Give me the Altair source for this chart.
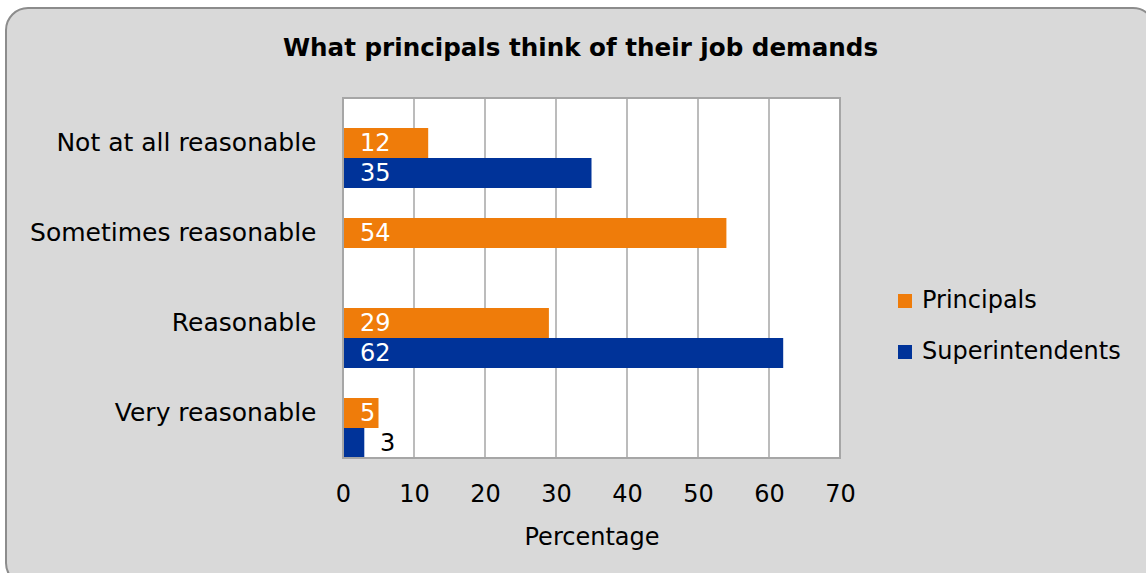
import altair as alt
import pandas as pd

categories = ["Not at all reasonable", "Sometimes reasonable", "Reasonable", "Very reasonable"]
principals = [12, 54, 29, 5]
superintendents = [35, None, 62, 3]
series = ["Principals", "Superintendents"]
grid_ticks = [0, 10, 20, 30, 40, 50, 60, 70]

rows = []
for c, p, s in zip(categories, principals, superintendents):
    rows.append({"category": c, "group": "Principals", "value": p})
    if s is not None:
        rows.append({"category": c, "group": "Superintendents", "value": s})
df = pd.DataFrame(rows)
grid_df = pd.DataFrame({"t": grid_ticks})

FONT = "DejaVu Sans"
FS = 24
W, H = 497, 360
PL, PT = 343, 98

xscale = alt.Scale(domain=[0, 70], nice=False, zero=True)
yscale = alt.Scale(domain=categories, paddingInner=0, paddingOuter=0)
yoff = alt.Scale(domain=series, paddingInner=0, paddingOuter=0.5, align=1)
colors = alt.Scale(domain=series, range=["#EF7C0A", "#003399"])

xaxis = alt.Axis(values=grid_ticks, title="Percentage", grid=False,
                 domain=False, ticks=False, labelPadding=24, labelFlush=False,
                 labelFontSize=FS, titleFontSize=FS, titlePadding=19,
                 labelFont=FONT, titleFont=FONT, titleFontWeight="normal",
                 labelColor="black", titleColor="black", zindex=2)

background = alt.Chart(pd.DataFrame({"a": [0]})).mark_rect(
    fill="#d9d9d9", stroke="#8c8c8c", strokeWidth=2, cornerRadius=22
).encode(
    x=alt.value(6 - PL), x2=alt.value(1155 - PL),
    y=alt.value(8 - PT), y2=alt.value(585 - PT)
)

plotbg = alt.Chart(pd.DataFrame({"a": [0]})).mark_rect(
    fill="white", stroke="#a6a6a6", strokeWidth=2
).encode(
    x=alt.value(0), x2=alt.value(W), y=alt.value(0), y2=alt.value(H)
)

grid = alt.Chart(grid_df).mark_rule(color="#a6a6a6", strokeWidth=1.5).encode(
    x=alt.X("t:Q", scale=xscale, axis=xaxis),
    y=alt.value(0), y2=alt.value(H)
)

bars = alt.Chart(df).mark_bar(size=30).encode(
    x=alt.X("value:Q", scale=xscale, axis=xaxis),
    y=alt.Y("category:N", scale=yscale, sort=categories,
            axis=alt.Axis(title=None, domain=False, ticks=False, labelPadding=27,
                          labelFontSize=25, labelFont=FONT, labelColor="black",
                          labelLimit=400, zindex=2)),
    yOffset=alt.YOffset("group:N", scale=yoff, sort=series),
    color=alt.Color("group:N", scale=colors, sort=series,
                    legend=alt.Legend(title=None, orient="none", legendX=550, legendY=191,
                                      symbolType="square", symbolSize=196,
                                      symbolStrokeWidth=0, labelFontSize=FS,
                                      labelFont=FONT, labelColor="black", labelLimit=400,
                                      rowPadding=27, labelOffset=5, zindex=2))
)

labels_in = alt.Chart(df).transform_filter("datum.value >= 4").mark_text(
    align="left", baseline="middle", dx=17, dy=1, fontSize=FS, font=FONT, color="white"
).encode(
    x=alt.value(0),
    y=alt.Y("category:N", scale=yscale, sort=categories),
    yOffset=alt.YOffset("group:N", scale=yoff, sort=series),
    text="value:Q"
)

labels_out = alt.Chart(df).transform_filter("datum.value < 4").mark_text(
    align="left", baseline="middle", dx=37, dy=1, fontSize=FS, font=FONT, color="black"
).encode(
    x=alt.value(0),
    y=alt.Y("category:N", scale=yscale, sort=categories),
    yOffset=alt.YOffset("group:N", scale=yoff, sort=series),
    text="value:Q"
)

border = alt.Chart(pd.DataFrame({"a": [0]})).mark_rect(
    fill=None, stroke="#a6a6a6", strokeWidth=2
).encode(
    x=alt.value(0), x2=alt.value(W), y=alt.value(0), y2=alt.value(H)
)

chart = alt.layer(background, plotbg, grid, bars, labels_in, labels_out, border).properties(
    width=W, height=H,
    title=alt.TitleParams("What principals think of their job demands", fontSize=24.6,
                          font=FONT, fontWeight="bold", color="black", offset=0,
                          anchor="middle", frame="group", dx=-11, dy=55, zindex=2),
    autosize=alt.AutoSizeParams(type="none"),
    padding={"left": PL, "top": PT, "right": 1146 - PL - W, "bottom": 573 - PT - H},
    background="white"
).configure_view(stroke=None, fill=None).resolve_scale(x="shared")

chart.save("out.html", embed_options={"renderer": "svg", "actions": False})
